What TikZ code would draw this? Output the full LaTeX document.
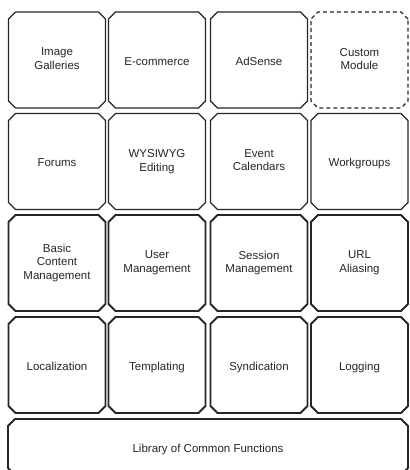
\documentclass[tikz,border=0pt]{standalone}
\usepackage{fontspec}
\setmainfont{Liberation Sans}
\usetikzlibrary{shapes.misc}
\tikzset{
  modbox/.style={chamfered rectangle, chamfered rectangle xsep=3.5pt, chamfered rectangle ysep=3.5pt,
    draw=black!85, line width=1.1pt, minimum width=97pt, minimum height=96pt, inner sep=0pt,
    align=center, font=\fontsize{11.5}{13.5}\selectfont, text=black!85,
    execute at begin node={\rule{0pt}{12.8pt}}, execute at end node={\rule[-2.5pt]{0pt}{2.5pt}}},
  corebox/.style={modbox, line width=1.8pt},
  custombox/.style={modbox, dash pattern=on 4pt off 3pt}
}
\begin{document}
\begin{tikzpicture}[x=1pt,y=-1pt]
\useasboundingbox (0,0) rectangle (409,470);
\clip (0,0) rectangle (409,470);
% row 1
\node[modbox] (ig) at (57,60) {Image\\Galleries};
\node[modbox] (ec) at (157,60) {E-commerce};
\node[modbox] (ad) at (259,60) {AdSense};
\node[custombox] (cm) at (359.5,60) {Custom\\Module};
% row 2
\node[modbox] (fo) at (57,161.5) {Forums};
\node[modbox] (wy) at (157,161.5) {WYSIWYG\\Editing};
\node[modbox] (ev) at (259,161.5) {Event\\Calendars};
\node[modbox] (wg) at (359.5,161.5) {Workgroups};
% row 3
\node[corebox] (bc) at (57,263) {Basic\\Content\\Management};
\node[corebox] (um) at (157,263) {User\\Management};
\node[corebox] (sm) at (259,263) {Session\\Management};
\node[corebox] (ua) at (359.5,263) {URL\\Aliasing};
% row 4
\node[corebox] (lo) at (57,365) {Localization};
\node[corebox] (te) at (157,365) {Templating};
\node[corebox] (sy) at (259,365) {Syndication};
\node[corebox] (lg) at (359.5,365) {Logging};
% library
\node[corebox, minimum width=400pt, minimum height=56pt] (lib) at (208,447) {Library of Common Functions};
\end{tikzpicture}
\end{document}
